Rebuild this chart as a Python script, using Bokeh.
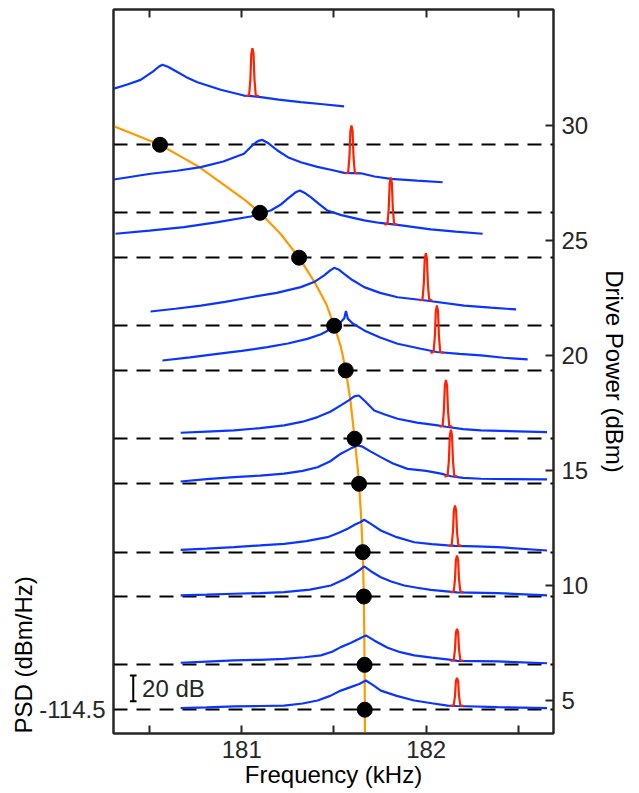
from bokeh.plotting import figure
from bokeh.models import Range1d, LinearAxis, FixedTicker, Label, Title, CustomJSTickFormatter
from bokeh.embed import file_html
from bokeh.resources import INLINE

# ---------------- data ----------------
# dashed baselines / drive powers (dBm) where the resonance dots sit
baselines = [4.6, 6.55, 9.52, 11.45, 14.42, 16.38, 19.35, 21.29, 24.25, 26.2, 29.16]
dot_freq = [181.667, 181.666, 181.662, 181.656, 181.636, 181.612, 181.564, 181.501, 181.311, 181.099, 180.557]

# orange backbone curve
curve_freq = [180.307, 180.557, 180.680, 180.770, 180.870, 181.020, 181.099, 181.210, 181.311,
              181.400, 181.460, 181.501, 181.538, 181.564, 181.590, 181.612, 181.630, 181.636,
              181.647, 181.656, 181.662, 181.666, 181.668]
curve_level = [29.96, 29.16, 28.60, 28.19, 27.61, 26.74, 26.20, 25.29, 24.25,
               23.12, 22.20, 21.29, 20.36, 19.35, 18.00, 16.38, 15.00, 14.42,
               13.00, 11.45, 9.52, 6.55, 3.565]

# blue PSD traces (offset onto drive-power axis), top to bottom
trace_freqs = [
    [180.307, 180.38, 180.452, 180.52, 180.55, 180.570, 180.60, 180.651, 180.70, 180.760, 180.886,
     181.012, 181.058, 181.103, 181.2, 181.320, 181.44, 181.555],
    [180.307, 180.506, 180.65, 180.778, 180.9, 181.012, 181.067, 181.09, 181.112, 181.14, 181.194,
     181.25, 181.320, 181.41, 181.501, 181.555, 181.646, 181.72, 181.808, 181.95, 182.089],
    [180.316, 180.5, 180.687, 180.87, 181.049, 181.157, 181.21, 181.248, 181.29, 181.315, 181.345,
     181.374, 181.42, 181.465, 181.54, 181.628, 181.664, 181.75, 181.845, 182.025, 182.16, 182.306],
    [180.506, 180.64, 180.778, 180.91, 181.049, 181.19, 181.320, 181.392, 181.447, 181.48, 181.501,
     181.525, 181.555, 181.6, 181.664, 181.75, 181.845, 181.998, 182.206, 182.35, 182.487],
    [180.570, 180.72, 180.868, 181.0, 181.139, 181.25, 181.356, 181.43, 181.501, 181.537, 181.556,
     181.565, 181.575, 181.6, 181.664, 181.75, 181.845, 181.971, 182.058, 182.18, 182.297, 182.42, 182.550],
    [180.669, 180.81, 180.958, 181.1, 181.230, 181.33, 181.411, 181.48, 181.537, 181.58, 181.61,
     181.635, 181.67, 181.718, 181.78, 181.845, 181.95, 182.062, 182.107, 182.2, 182.297, 182.655],
    [180.669, 180.81, 180.958, 181.1, 181.230, 181.33, 181.411, 181.48, 181.537, 181.59, 181.628,
     181.650, 181.7, 181.754, 181.82, 181.899, 182.0, 182.080, 182.134, 182.2, 182.297, 182.655],
    [180.669, 180.81, 180.958, 181.1, 181.230, 181.35, 181.465, 181.53, 181.574, 181.615, 181.642,
     181.664, 181.7, 181.754, 181.84, 181.935, 182.03, 182.116, 182.156, 182.27, 182.387, 182.655],
    [180.669, 180.81, 180.958, 181.1, 181.230, 181.37, 181.483, 181.56, 181.609, 181.64, 181.664,
     181.7, 181.754, 181.81, 181.881, 181.95, 182.025, 182.167, 182.387, 182.655],
    [180.669, 180.81, 180.958, 181.1, 181.230, 181.34, 181.429, 181.49, 181.537, 181.59, 181.637,
     181.673, 181.72, 181.791, 181.86, 181.935, 182.03, 182.125, 182.167, 182.387, 182.655],
    [180.669, 180.81, 180.958, 181.1, 181.230, 181.33, 181.411, 181.48, 181.537, 181.59, 181.637,
     181.673, 181.71, 181.754, 181.84, 181.935, 182.03, 182.116, 182.167, 182.387, 182.655],
]
trace_levels = [
    [31.60, 31.78, 31.98, 32.35, 32.55, 32.64, 32.55, 32.32, 32.10, 31.88, 31.55,
     31.30, 31.27, 31.23, 31.12, 31.01, 30.92, 30.83],
    [27.65, 27.90, 28.03, 28.19, 28.43, 28.77, 29.20, 29.33, 29.37, 29.25, 28.91,
     28.62, 28.40, 28.20, 28.04, 27.94, 27.92, 27.78, 27.68, 27.60, 27.53],
    [25.29, 25.43, 25.58, 25.80, 26.04, 26.30, 26.55, 26.81, 27.08, 27.17, 27.05,
     26.88, 26.58, 26.30, 26.10, 25.94, 25.87, 25.76, 25.68, 25.48, 25.38, 25.29],
    [21.91, 22.03, 22.17, 22.33, 22.53, 22.72, 22.97, 23.19, 23.48, 23.70, 23.81,
     23.74, 23.55, 23.28, 22.97, 22.72, 22.53, 22.39, 22.17, 22.08, 22.00],
    [19.78, 19.92, 20.07, 20.20, 20.36, 20.52, 20.72, 20.92, 21.23, 21.45, 21.62,
     21.93, 21.60, 21.40, 21.09, 20.78, 20.51, 20.29, 20.15, 20.07, 20.00, 19.90, 19.83],
    [16.64, 16.69, 16.74, 16.84, 16.96, 17.12, 17.32, 17.55, 17.83, 18.05, 18.22,
     18.26, 18.00, 17.61, 17.42, 17.25, 17.08, 16.96, 16.90, 16.80, 16.74, 16.67],
    [14.52, 14.62, 14.71, 14.78, 14.86, 14.98, 15.14, 15.40, 15.73, 15.95, 16.09,
     16.05, 15.82, 15.58, 15.30, 15.07, 14.98, 14.86, 14.75, 14.68, 14.64, 14.61],
    [11.55, 11.60, 11.67, 11.74, 11.81, 11.93, 12.10, 12.30, 12.47, 12.65, 12.75,
     12.86, 12.68, 12.39, 12.10, 11.88, 11.80, 11.74, 11.72, 11.70, 11.67, 11.52],
    [9.57, 9.60, 9.64, 9.67, 9.71, 9.82, 10.00, 10.28, 10.51, 10.68, 10.83,
     10.62, 10.36, 10.17, 10.00, 9.90, 9.81, 9.70, 9.67, 9.57],
    [6.64, 6.69, 6.74, 6.77, 6.81, 6.88, 6.96, 7.12, 7.32, 7.50, 7.68,
     7.83, 7.60, 7.29, 7.10, 6.96, 6.86, 6.78, 6.72, 6.70, 6.62],
    [4.67, 4.70, 4.74, 4.76, 4.78, 4.87, 5.00, 5.20, 5.43, 5.58, 5.72,
     5.87, 5.68, 5.43, 5.20, 5.00, 4.88, 4.78, 4.76, 4.71, 4.67],
]

# red drive tones: centre frequency, base level, top level
peak_freq = [181.058, 181.595, 181.808, 181.998, 182.058, 182.107, 182.134, 182.156, 182.167, 182.167, 182.167]
peak_base = [31.27, 27.91, 25.68, 22.39, 20.11, 16.90, 14.73, 11.72, 9.70, 6.72, 4.76]
peak_top = [33.36, 30.00, 27.74, 24.45, 22.17, 18.94, 16.77, 13.48, 11.30, 8.12, 5.99]
# shape of a tone (kHz offsets, fraction of height)
peak_dx = [-0.035, -0.018, -0.011, -0.006, 0.0, 0.006, 0.011, 0.018, 0.035]
peak_h = [0.0, 0.02, 0.35, 0.88, 1.0, 0.88, 0.35, 0.02, 0.0]

# PSD scale (left): -114.5 dBm/Hz at the lowest baseline, 20 dB bar
psd_ticks = [-114.5]
psd_range = (-132.98, 429.07)
scale_freq = 180.412
scale_lo, scale_hi = -108.0, -88.0
scale_text = "20 dB"

x_ticks = [181, 182]
x_minor = [180.5, 181.5, 182.5]
x_all = [180.5, 181, 181.5, 182, 182.5]
y_ticks = [5, 10, 15, 20, 25, 30]

# ---------------- figure ----------------
FONT = "Liberation Sans"
TXT = "#262626"
TICK_FS = "24px"

p = figure(width=639, height=793, output_backend="svg", toolbar_location=None,
           x_range=Range1d(180.305, 182.69), y_range=Range1d(3.565, 35.04),
           y_axis_location="right", min_border_left=113, min_border_right=86,
           min_border_top=9, min_border_bottom=60)
p.extra_y_ranges = {"psd": Range1d(*psd_range)}
p.grid.visible = False
p.outline_line_color = TXT
p.outline_line_width = 2
p.background_fill_color = "white"
p.border_fill_color = "white"

def style_axis(ax, ticker):
    ax.ticker = ticker
    ax.axis_line_color = TXT
    ax.axis_line_width = 2
    ax.major_tick_line_color = TXT
    ax.major_tick_line_width = 2
    ax.minor_tick_line_color = TXT
    ax.minor_tick_line_width = 2
    ax.major_tick_in = 8
    ax.major_tick_out = 0
    ax.minor_tick_in = 8
    ax.minor_tick_out = 0
    ax.major_label_text_font = FONT
    ax.major_label_text_font_size = TICK_FS
    ax.major_label_text_color = TXT
    ax.axis_label_text_font = FONT
    ax.axis_label_text_font_size = "24px"
    ax.axis_label_text_font_style = "normal"
    ax.axis_label_text_color = "black"

xa = p.xaxis[0]
style_axis(xa, FixedTicker(ticks=x_ticks, minor_ticks=x_minor))
xa.axis_label = "Frequency (kHz)"
xa.major_label_standoff = 7
xa.axis_label_standoff = 0

ya = p.yaxis[0]
style_axis(ya, FixedTicker(ticks=y_ticks, minor_ticks=[]))
ya.axis_label = "Drive Power (dBm)"
ya.major_label_standoff = 8
ya.axis_label_standoff = 10

top = LinearAxis()
style_axis(top, FixedTicker(ticks=[], minor_ticks=x_all))
p.add_layout(top, "above")

left = LinearAxis(y_range_name="psd")
style_axis(left, FixedTicker(ticks=psd_ticks, minor_ticks=[]))
left.formatter = CustomJSTickFormatter(code="return tick.toFixed(1);")
left.major_tick_in = 0
left.major_label_standoff = 8
p.add_layout(left, "left")
p.add_layout(Title(text="PSD (dBm/Hz)", align="left", text_font=FONT, text_font_size="24px",
                   text_font_style="normal", text_color="black", standoff=0), "left")

# dashed baselines
p.hspan(y=baselines, line_color="black", line_width=2, line_dash="14 9")

# orange backbone
p.line(curve_freq, curve_level, line_color="#ff9900", line_width=2.2)

# blue traces
p.multi_line(xs=trace_freqs, ys=trace_levels, line_color="#0a35ff", line_width=2.2)

# red tones
red_xs = [[c + d for d in peak_dx] for c in peak_freq]
red_ys = [[b + (t - b) * h for h in peak_h] for b, t in zip(peak_base, peak_top)]
p.multi_line(xs=red_xs, ys=red_ys, line_color="#ff2200", line_width=2.2)

# resonance dots
p.scatter(dot_freq, baselines, size=15, color="black")

# 20 dB scale bar (PSD units)
cap = 0.018
p.segment(x0=[scale_freq, scale_freq - cap, scale_freq - cap],
          y0=[scale_lo, scale_lo, scale_hi],
          x1=[scale_freq, scale_freq + cap, scale_freq + cap],
          y1=[scale_hi, scale_lo, scale_hi], line_color="black", line_width=2,
          y_range_name="psd")
p.add_layout(Label(x=scale_freq + 0.048, y=(scale_lo + scale_hi) / 2, y_range_name="psd",
                   text=scale_text, text_font=FONT, text_font_size=TICK_FS, text_color=TXT,
                   text_align="left", text_baseline="middle"))

open("out.html", "w").write(file_html(p, INLINE))
